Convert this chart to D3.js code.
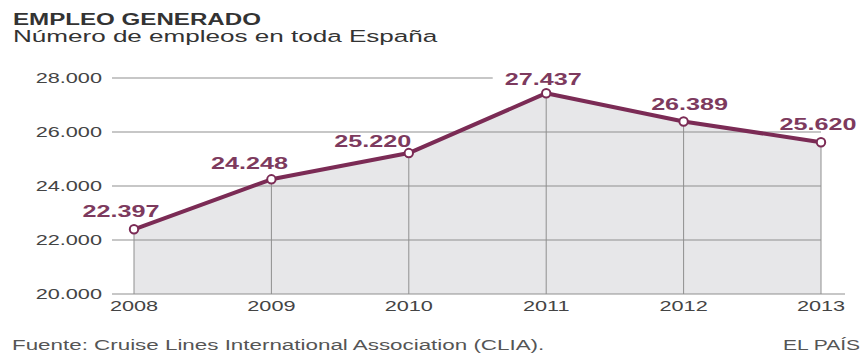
<!DOCTYPE html>
<html>
<head>
<meta charset="utf-8">
<script src="https://cdn.jsdelivr.net/npm/d3@7"></script>
<style>
  body { margin: 0; background: #fff; }
  svg { display: block; }
  text { font-family: "Liberation Sans", Arial, sans-serif; }
</style>
</head>
<body>
<div id="canvas"></div>
<script>
"use strict"

// data
let years = ["2008", "2009", "2010", "2011", "2012", "2013"];
let jobs = [22397, 24248, 25220, 27437, 26389, 25620];
let yTicks = [20000, 22000, 24000, 26000, 28000];

// label nudges (style only), dx / dy from the point
let labelDx = [-13, -22, -36, -3, 6, -3];
let labelDy = [-12, -10, -6, -8, -11, -12];

let W = 863, H = 353;
let stretch = 1.5;   // the reference text is drawn wide
let plum = "#7b2b55";
let gridColor = "#8f8f8f";

let fmt = d3.formatLocale({ decimal: ",", thousands: ".", grouping: [3] }).format(",d");

let svg = d3.select("#canvas")
    .append("svg")
    .attr("width", W)
    .attr("height", H);

let x = d3.scalePoint().domain(years).range([134, 821]);
let y = d3.scaleLinear().domain([20000, 28000]).range([294, 78]);

// put a text at (px,py), stretched horizontally
function label(g, px, py, str, size, anchor, sx) {
    return g.append("text")
        .attr("transform", `translate(${px},${py}) scale(${sx || stretch},1)`)
        .attr("text-anchor", anchor || "start")
        .style("font-size", size + "px")
        .text(str);
}

// titles
label(svg, 13, 25, "EMPLEO GENERADO", 17, "start", 1.42)
    .style("font-weight", "bold").attr("fill", "#333");
label(svg, 13, 42, "Número de empleos en toda España", 16.5, "start", 1.58)
    .attr("fill", "#333");

let pts = years.map((yr, i) => ({ year: yr, value: jobs[i] }));

// area
let area = d3.area()
    .x(d => x(d.year))
    .y0(y(20000))
    .y1(d => y(d.value));

svg.append("path")
    .datum(pts)
    .attr("d", area)
    .attr("fill", "#e7e7e9");

// value labels first, so the top grid line can stop before the peak label
let valLabels = svg.append("g");
pts.forEach((d, i) => {
    label(valLabels, x(d.year) + labelDx[i], y(d.value) + labelDy[i], fmt(d.value), 17, "middle", 1.48)
        .style("font-weight", "bold")
        .attr("fill", "#7d3a5e");
});

let peak = d3.maxIndex(jobs);
let svgLeft = svg.node().getBoundingClientRect().left;
let peakLeft = valLabels.selectAll("text").nodes()[peak].getBoundingClientRect().left - svgLeft;

// horizontal grid + y tick labels
let grid = svg.insert("g", "g");
yTicks.forEach(t => {
    let x2 = x(years[years.length - 1]);
    if (t === yTicks[yTicks.length - 1]) x2 = peakLeft - 12;
    if (t === yTicks[0]) x2 = 845;
    grid.append("line")
        .attr("x1", 112).attr("x2", x2)
        .attr("y1", y(t)).attr("y2", y(t))
        .attr("stroke", gridColor)
        .attr("stroke-width", 1);
    label(grid, 102, y(t) + 5, fmt(t), 14, "end", 1.55).attr("fill", "#444");
});

// vertical drop lines
pts.forEach(d => {
    grid.append("line")
        .attr("x1", x(d.year)).attr("x2", x(d.year))
        .attr("y1", y(d.value)).attr("y2", y(20000))
        .attr("stroke", gridColor)
        .attr("stroke-width", 1);
});

// year labels
years.forEach(yr => {
    label(svg, x(yr), 311, yr, 14, "middle", 1.55).attr("fill", "#444");
});

// line + markers
let line = d3.line()
    .x(d => x(d.year))
    .y(d => y(d.value));

svg.append("path")
    .datum(pts)
    .attr("d", line)
    .attr("fill", "none")
    .attr("stroke", plum)
    .attr("stroke-width", 4)
    .attr("stroke-linejoin", "round");

svg.selectAll("circle.pt")
    .data(pts)
    .enter()
    .append("circle")
    .attr("class", "pt")
    .attr("cx", d => x(d.year))
    .attr("cy", d => y(d.value))
    .attr("r", 4.2)
    .attr("fill", "#fff")
    .attr("stroke", plum)
    .attr("stroke-width", 2);

// footer
label(svg, 12, 350, "Fuente: Cruise Lines International Association (CLIA).", 14, "start", 1.6)
    .attr("fill", "#555");
label(svg, 860, 350, "EL PAÍS", 14, "end", 1.5)
    .attr("fill", "#555");
</script>
</body>
</html>
